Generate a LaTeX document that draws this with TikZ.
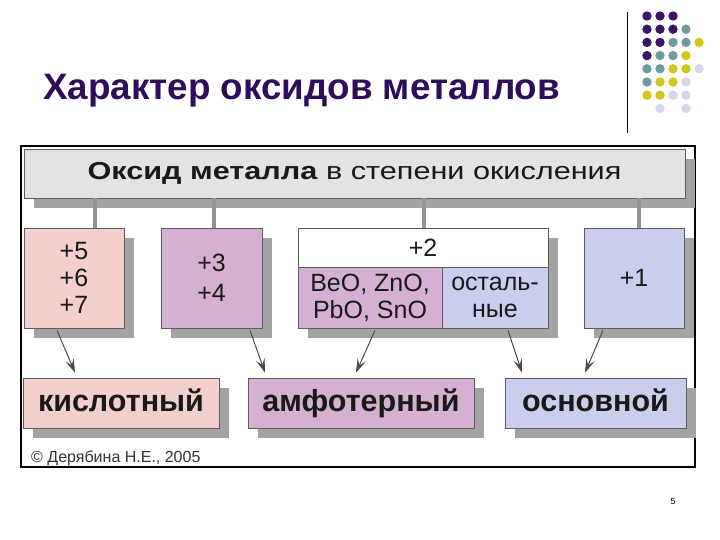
\documentclass[tikz,border=0pt]{standalone}
\usepackage{fontspec}
\setmainfont{Liberation Sans}
\newfontfamily\headfont[FakeStretch=1.25]{Liberation Sans}
\usetikzlibrary{arrows.meta, positioning, shadows}

\definecolor{titlepurple}{HTML}{2E0E5C}
\definecolor{dotD}{HTML}{3A1466}
\definecolor{dotT}{HTML}{6E9C9E}
\definecolor{dotY}{HTML}{D2C81C}
\definecolor{dotL}{HTML}{D4D6E6}
\definecolor{headgray}{HTML}{E3E3E3}
\definecolor{acidpink}{HTML}{F4D0CC}
\definecolor{amphmauve}{HTML}{D4B1D0}
\definecolor{basicblue}{HTML}{C9CEEC}
\definecolor{shadowgray}{HTML}{A2A4A2}
\definecolor{edgegray}{HTML}{5E5A64}
\definecolor{arrowgray}{HTML}{4A4A4A}

\begin{document}
\begin{tikzpicture}[
    x=1pt, y=-1pt,
    box/.style={
            rectangle,
            draw=edgegray,
            line width=0.8pt,
            inner sep=0pt,
            align=center,
            text=black!90,
            drop shadow={shadow xshift=10pt, shadow yshift=-10pt, fill=shadowgray, opacity=1}
        },
    valbox/.style={box, minimum width=100pt, minimum height=100pt,
            font=\fontsize{25}{27}\selectfont},
    kindbox/.style={box, minimum height=50pt, text height=22pt, text depth=6pt,
            font=\fontsize{30.5}{32}\selectfont\bfseries},
    stem/.style={line width=3.5pt, shadowgray!90!black},
    arrow/.style={arrowgray, line width=1pt, -{Stealth[length=14pt, width=9pt, inset=6pt]}},
    ]
    \useasboundingbox (0,0) rectangle (720,540);

    % --- Title ---
    \node (title) [anchor=base west, inner sep=0pt, text=titlepurple,
        font=\fontsize{36.8}{40}\selectfont\bfseries] at (43,100) {Характер оксидов металлов};
    \draw[line width=0.8pt] (627,12) -- (627,133);
    \foreach [count=\r] \rowcols in {{D,D,D,N,N},{D,D,D,T,N},{D,D,T,T,Y},{D,T,T,Y,N},
            {T,T,Y,Y,L},{T,Y,Y,L,N},{Y,Y,L,L,N},{N,L,N,L,N}}
        \foreach [count=\c] \k in \rowcols
            {\if\k N\else\fill[dot\k] ({647+13*(\c-1)},{16+13.2*(\r-1)}) circle (4.7);\fi}

    % --- Frame ---
    \node (frame) [draw, line width=2.8pt, inner sep=0pt, minimum width=674pt,
        minimum height=321pt] at (358,306.5) {};

    % --- Header ---
    \node (head) [box, fill=headgray, minimum width=661pt, minimum height=49pt,
        font=\headfont\fontsize{24.5}{28}\selectfont] at (354.5,173.5)
        {\textbf{Оксид металла} в степени окисления};

    % --- Oxidation states ---
    \node (ox567) [valbox, fill=acidpink] at (74,278) {+5\\+6\\+7};
    \node (ox34) [valbox, fill=amphmauve, minimum width=101pt,
        font=\fontsize{25}{30}\selectfont] at (211.5,278) {+3\\+4};
    \node (ox2) [box, fill=white, minimum width=250pt, minimum height=39pt,
        font=\fontsize{25}{27}\selectfont] at (423,247.5) {+2};
    \node (ox2_amph) [box, fill=amphmauve, minimum width=144pt, minimum height=61pt,
        font=\fontsize{25}{27}\selectfont] at (370,297.5) {BeO, ZnO,\\PbO, SnO};
    \node (ox2_rest) [box, fill=basicblue, minimum width=106pt, minimum height=61pt,
        font=\fontsize{25}{27}\selectfont] at (495,297.5) {осталь-\\ные};
    \node (ox1) [valbox, fill=basicblue] at (634,278) {+1};

    % --- Character ---
    \node (acid) [kindbox, fill=acidpink, minimum width=196pt] at (121,403) {кислотный};
    \node (amph) [kindbox, fill=amphmauve, minimum width=226pt] at (361,403) {амфотерный};
    \node (basic) [kindbox, fill=basicblue, minimum width=181pt] at (595.5,403) {основной};

    \node (author) [anchor=base west, inner sep=0pt, text=black!80,
        font=\fontsize{16}{18}\selectfont] at (31,462) {© Дерябина Н.Е., 2005};
    \node (pagenum) [inner sep=0pt, font=\fontsize{9}{10}\selectfont] at (673,501) {5};

    % --- Stems ---
    \draw[stem] ([xshift=21pt]ox567.north) -- ([xshift=21pt]ox567.north |- head.south);
    \draw[stem] ([xshift=2.5pt]ox34.north) -- ([xshift=2.5pt]ox34.north |- head.south);
    \draw[stem] ([xshift=1pt]ox2.north) -- ([xshift=1pt]ox2.north |- head.south);
    \draw[stem] ([xshift=5pt]ox1.north) -- ([xshift=5pt]ox1.north |- head.south);

    % --- Arrows ---
    \draw[arrow] ([xshift=-17pt,yshift=-2pt]ox567.south) -- ([xshift=-46pt,yshift=5pt]acid.north);
    \draw[arrow] ([xshift=38.5pt,yshift=-2pt]ox34.south) -- ([xshift=-96pt,yshift=5pt]amph.north);
    \draw[arrow] ([xshift=5pt,yshift=-2pt]ox2_amph.south) -- ([xshift=-5pt,yshift=5pt]amph.north);
    \draw[arrow] ([xshift=13pt,yshift=-2pt]ox2_rest.south) -- ([xshift=-73.5pt,yshift=5pt]basic.north);
    \draw[arrow] ([xshift=-31pt,yshift=-2pt]ox1.south) -- ([xshift=-10.5pt,yshift=5pt]basic.north);

\end{tikzpicture}
\end{document}
